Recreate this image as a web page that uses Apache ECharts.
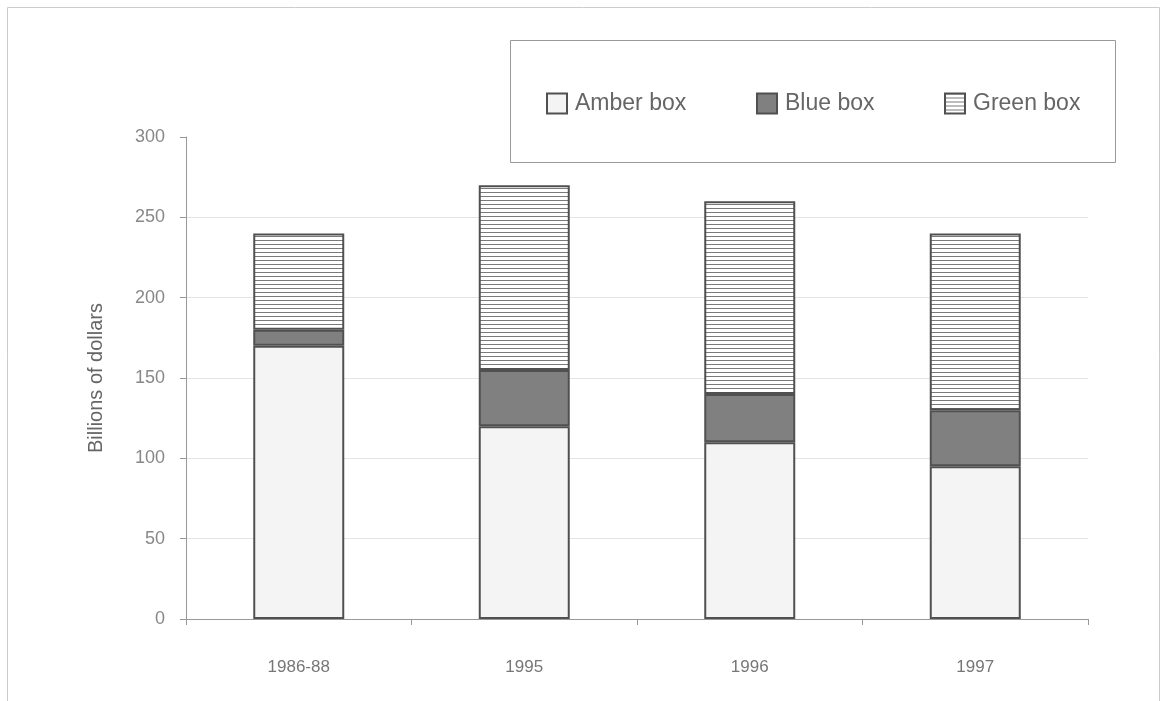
<!DOCTYPE html>
<html>
<head>
<meta charset="utf-8">
<script src="https://cdn.jsdelivr.net/npm/echarts@6/dist/echarts.min.js"></script>
<style>
html,body{margin:0;padding:0;background:#fff;}
#chart{width:1164px;height:701px;}
</style>
</head>
<body>
<div id="chart"></div>
<script>
const categories = ['1986-88', '1995', '1996', '1997'];
const amberBox = [170, 120, 110, 95];
const blueBox = [10, 35, 30, 35];
const greenBox = [60, 115, 120, 110];
const yTicks = { min: 0, max: 300, interval: 50 };

const FONT = 'Liberation Sans, Arial, sans-serif';

// horizontal-line hatch pattern for the Green box series
const pc = document.createElement('canvas');
pc.width = 4; pc.height = 4;
const pctx = pc.getContext('2d');
pctx.fillStyle = '#ffffff';
pctx.fillRect(0, 0, 4, 4);
pctx.fillStyle = '#7a7a7a';
pctx.fillRect(0, 0, 4, 1);

const borderStyle = { borderColor: '#505050', borderWidth: 2 };

const chart = echarts.init(document.getElementById('chart'), null, { renderer: 'canvas' });

function legendAt(name, left) {
  return {
    data: [name],
    left: left,
    top: 92,
    padding: 0,
    itemWidth: 20,
    itemHeight: 20,
    icon: 'rect',
    selectedMode: false,
    textStyle: { fontFamily: FONT, fontSize: 23, color: '#666666', padding: [0, 0, 0, 3] }
  };
}

chart.setOption({
  animation: false,
  backgroundColor: '#ffffff',
  textStyle: { fontFamily: FONT },
  graphic: [
    { type: 'rect', z: -10, shape: { x: 7.5, y: 7.5, width: 1152, height: 720 },
      style: { fill: 'none', stroke: '#cccccc', lineWidth: 1 } },
    { type: 'rect', z: 0, shape: { x: 510.5, y: 40.5, width: 605, height: 122 },
      style: { fill: '#ffffff', stroke: '#999999', lineWidth: 1 } }
  ],
  legend: [
    legendAt('Amber box', 546),
    legendAt('Blue box', 756),
    legendAt('Green box', 944)
  ],
  grid: { left: 186, right: 76, top: 137, bottom: 82, containLabel: false },
  xAxis: {
    type: 'category',
    data: categories,
    boundaryGap: true,
    axisLine: { show: true, lineStyle: { color: '#999999', width: 1 } },
    axisTick: { show: true, alignWithLabel: false, length: 6, lineStyle: { color: '#999999' } },
    axisLabel: { fontFamily: FONT, fontSize: 17, color: '#777777', margin: 40 },
    splitLine: { show: false }
  },
  yAxis: {
    type: 'value',
    min: yTicks.min,
    max: yTicks.max,
    interval: yTicks.interval,
    name: 'Billions of dollars',
    nameLocation: 'middle',
    nameRotate: 90,
    nameGap: 80,
    nameTextStyle: { fontFamily: FONT, fontSize: 20, color: '#666666' },
    axisLine: { show: true, lineStyle: { color: '#999999', width: 1 } },
    axisTick: { show: true, length: 6, lineStyle: { color: '#999999' } },
    axisLabel: { fontFamily: FONT, fontSize: 18, color: '#888888', margin: 21 },
    splitLine: { show: true, showMaxLine: false, lineStyle: { color: '#e4e4e4', width: 1 } }
  },
  series: [
    { name: 'Amber box', type: 'bar', stack: 'total', barWidth: 91, data: amberBox,
      itemStyle: Object.assign({ color: '#f4f4f4' }, borderStyle) },
    { name: 'Blue box', type: 'bar', stack: 'total', barWidth: 91, data: blueBox,
      itemStyle: Object.assign({ color: '#808080' }, borderStyle) },
    { name: 'Green box', type: 'bar', stack: 'total', barWidth: 91, data: greenBox,
      itemStyle: Object.assign({ color: { image: pc, repeat: 'repeat' } }, borderStyle) }
  ]
});
</script>
</body>
</html>
